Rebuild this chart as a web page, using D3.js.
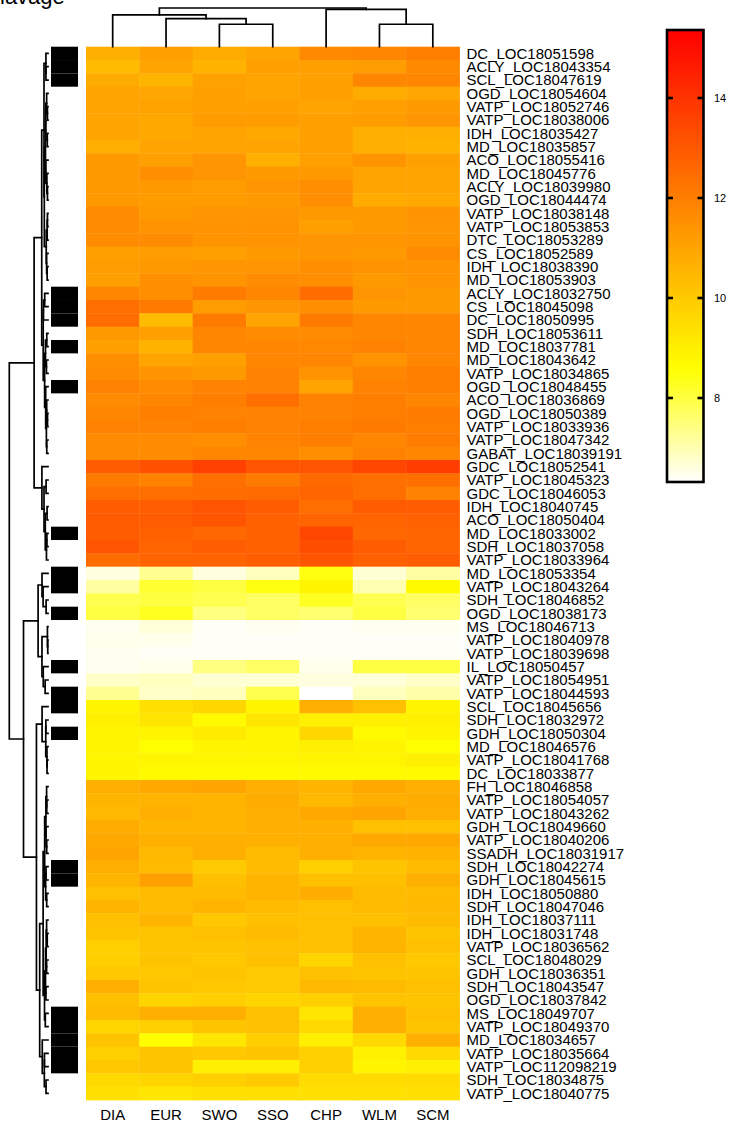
<!DOCTYPE html>
<html>
<head>
<meta charset="utf-8">
<script src="https://cdn.jsdelivr.net/npm/d3@7"></script>
<style>
  html, body { margin: 0; padding: 0; background: #fff; }
  svg { display: block; font-family: "Liberation Sans", Arial, Helvetica, sans-serif; }
</style>
</head>
<body>
<svg id="chart" width="730" height="1126"></svg>
<script>
// ---- data ---------------------------------------------------------------
const samples = ["DIA", "EUR", "SWO", "SSO", "CHP", "WLM", "SCM"];

const genes = [
  "DC_LOC18051598", "ACLY_LOC18043354", "SCL_LOC18047619", "OGD_LOC18054604",
  "VATP_LOC18052746", "VATP_LOC18038006", "IDH_LOC18035427", "MD_LOC18035857",
  "ACO_LOC18055416", "MD_LOC18045776", "ACLY_LOC18039980", "OGD_LOC18044474",
  "VATP_LOC18038148", "VATP_LOC18053853", "DTC_LOC18053289", "CS_LOC18052589",
  "IDH_LOC18038390", "MD_LOC18053903", "ACLY_LOC18032750", "CS_LOC18045098",
  "DC_LOC18050995", "SDH_LOC18053611", "MD_LOC18037781", "MD_LOC18043642",
  "VATP_LOC18034865", "OGD_LOC18048455", "ACO_LOC18036869", "OGD_LOC18050389",
  "VATP_LOC18033936", "VATP_LOC18047342", "GABAT_LOC18039191", "GDC_LOC18052541",
  "VATP_LOC18045323", "GDC_LOC18046053", "IDH_LOC18040745", "ACO_LOC18050404",
  "MD_LOC18033002", "SDH_LOC18037058", "VATP_LOC18033964", "MD_LOC18053354",
  "VATP_LOC18043264", "SDH_LOC18046852", "OGD_LOC18038173", "MS_LOC18046713",
  "VATP_LOC18040978", "VATP_LOC18039698", "IL_LOC18050457", "VATP_LOC18054951",
  "VATP_LOC18044593", "SCL_LOC18045656", "SDH_LOC18032972", "GDH_LOC18050304",
  "MD_LOC18046576", "VATP_LOC18041768", "DC_LOC18033877", "FH_LOC18046858",
  "VATP_LOC18054057", "VATP_LOC18043262", "GDH_LOC18049660", "VATP_LOC18040206",
  "SSADH_LOC18031917", "SDH_LOC18042274", "GDH_LOC18045615", "IDH_LOC18050880",
  "SDH_LOC18047046", "IDH_LOC18037111", "IDH_LOC18031748", "VATP_LOC18036562",
  "SCL_LOC18048029", "GDH_LOC18036351", "SDH_LOC18043547", "OGD_LOC18037842",
  "MS_LOC18049707", "VATP_LOC18049370", "MD_LOC18034657", "VATP_LOC18035664",
  "VATP_LOC112098219", "SDH_LOC18034875", "VATP_LOC18040775"
];

// log2 expression, one row per gene, columns in sample order
const expr = [
  [10.7, 11.1, 10.8, 11.0, 11.7, 11.8, 12.0],
  [10.4, 11.0, 10.6, 11.1, 11.1, 11.2, 11.7],
  [10.8, 10.55, 11.05, 11.0, 11.1, 11.8, 11.8],
  [11.0, 10.95, 11.1, 11.0, 11.1, 10.8, 10.95],
  [11.0, 11.05, 11.1, 11.1, 11.0, 11.1, 11.3],
  [11.0, 10.9, 11.2, 11.2, 11.1, 11.2, 11.4],
  [11.0, 10.9, 11.0, 10.9, 11.1, 10.7, 10.7],
  [10.7, 11.0, 11.0, 11.0, 11.1, 10.7, 10.6],
  [11.3, 11.1, 11.4, 10.7, 11.1, 11.45, 11.1],
  [11.3, 11.55, 11.4, 11.3, 11.3, 11.0, 11.0],
  [11.3, 11.3, 11.2, 11.4, 11.55, 11.0, 11.0],
  [11.3, 11.2, 11.2, 11.3, 11.55, 10.8, 10.9],
  [11.65, 11.3, 11.4, 11.4, 11.3, 11.3, 11.45],
  [11.65, 11.45, 11.45, 11.45, 11.1, 11.3, 11.4],
  [11.65, 11.65, 11.45, 11.45, 11.4, 11.4, 11.45],
  [11.1, 11.2, 11.1, 11.3, 11.4, 11.3, 11.65],
  [11.2, 11.3, 11.4, 11.4, 11.55, 11.45, 11.45],
  [11.1, 11.55, 11.45, 11.65, 11.55, 11.3, 11.45],
  [11.8, 11.55, 12.05, 11.8, 12.5, 11.4, 11.3],
  [12.4, 12.1, 11.2, 11.4, 11.55, 11.3, 11.3],
  [12.5, 10.4, 12.1, 11.0, 12.1, 11.8, 11.8],
  [11.3, 11.1, 11.8, 11.65, 11.65, 11.8, 11.8],
  [11.1, 10.6, 11.8, 11.8, 11.75, 11.9, 11.8],
  [11.55, 11.0, 11.1, 11.8, 11.8, 11.45, 11.8],
  [11.65, 11.45, 11.3, 11.9, 11.45, 11.8, 12.0],
  [11.9, 11.65, 11.9, 11.9, 11.0, 11.9, 12.0],
  [11.65, 11.8, 12.0, 12.4, 11.9, 12.0, 11.8],
  [11.8, 12.0, 11.9, 11.9, 11.9, 12.0, 12.05],
  [11.9, 11.9, 12.0, 11.9, 12.0, 12.1, 12.0],
  [11.65, 11.65, 11.55, 11.9, 12.0, 11.8, 12.05],
  [11.65, 11.65, 11.8, 11.8, 11.55, 11.9, 11.8],
  [12.95, 13.2, 13.65, 13.1, 13.1, 13.5, 13.75],
  [12.1, 11.9, 12.4, 12.1, 12.55, 12.4, 12.4],
  [12.4, 12.4, 12.5, 12.55, 12.7, 12.4, 11.9],
  [12.95, 12.9, 13.1, 12.95, 12.4, 12.95, 12.95],
  [12.95, 12.95, 13.1, 12.8, 12.7, 12.7, 12.8],
  [12.95, 12.8, 12.6, 12.8, 13.5, 12.6, 12.7],
  [13.1, 12.7, 12.9, 12.8, 13.3, 12.95, 12.7],
  [12.5, 12.7, 12.7, 12.9, 13.1, 12.8, 12.95],
  [6.6, 7.3, 6.6, 6.9, 8.45, 6.7, 7.15],
  [7.15, 8.15, 8.0, 8.45, 8.85, 7.0, 8.7],
  [7.87, 8.0, 7.87, 7.7, 8.3, 7.87, 7.7],
  [8.0, 8.3, 7.45, 7.7, 7.6, 8.0, 7.6],
  [6.45, 6.66, 6.38, 6.45, 6.38, 6.45, 6.45],
  [6.5, 6.5, 6.38, 6.38, 6.38, 6.38, 6.38],
  [6.45, 6.4, 6.4, 6.4, 6.4, 6.4, 6.4],
  [6.45, 6.5, 7.45, 7.7, 6.5, 8.0, 8.0],
  [6.82, 6.9, 6.7, 6.7, 6.6, 6.66, 6.82],
  [7.3, 6.82, 6.9, 7.87, 6.32, 6.9, 7.1],
  [8.85, 9.4, 9.65, 8.85, 10.7, 10.25, 8.85],
  [9.0, 9.25, 8.7, 9.25, 9.0, 9.0, 9.0],
  [8.85, 8.85, 9.1, 8.85, 9.65, 8.7, 8.85],
  [8.85, 8.6, 8.85, 8.85, 9.0, 8.85, 8.6],
  [8.85, 8.85, 8.85, 8.85, 8.85, 8.85, 9.0],
  [8.85, 8.7, 8.7, 8.7, 8.7, 8.7, 8.7],
  [10.7, 10.9, 11.0, 10.7, 10.55, 10.9, 10.7],
  [10.55, 10.55, 10.55, 10.8, 10.45, 10.7, 10.8],
  [10.45, 10.7, 10.55, 10.7, 10.9, 11.0, 10.7],
  [10.8, 10.55, 10.55, 10.7, 10.7, 10.25, 10.25],
  [10.9, 10.7, 10.7, 10.7, 10.7, 10.9, 10.9],
  [11.0, 10.45, 10.7, 10.4, 10.7, 10.55, 10.6],
  [10.7, 10.4, 10.0, 10.4, 9.85, 10.15, 10.4],
  [10.55, 11.1, 10.25, 10.55, 10.25, 10.25, 10.7],
  [10.25, 10.4, 10.4, 10.55, 10.75, 10.4, 10.4],
  [10.55, 10.4, 10.55, 10.4, 10.25, 10.4, 10.45],
  [10.25, 10.55, 10.05, 10.25, 10.25, 10.25, 10.4],
  [10.15, 10.15, 10.25, 10.4, 10.25, 10.55, 10.15],
  [9.85, 10.15, 10.15, 10.25, 10.25, 10.55, 10.25],
  [9.85, 10.15, 10.05, 10.25, 9.7, 10.25, 10.05],
  [10.05, 10.05, 10.15, 10.0, 10.25, 10.15, 10.15],
  [10.7, 10.15, 10.05, 10.0, 10.45, 10.4, 10.25],
  [10.25, 9.7, 9.85, 9.7, 9.85, 10.15, 10.15],
  [10.4, 10.7, 10.7, 10.25, 9.25, 10.7, 10.25],
  [9.7, 9.85, 10.15, 10.25, 9.6, 10.7, 10.15],
  [10.15, 8.6, 9.25, 9.85, 9.0, 9.6, 10.7],
  [9.85, 10.15, 10.05, 10.15, 9.85, 8.95, 9.6],
  [10.05, 10.15, 9.0, 9.0, 9.85, 8.85, 9.0],
  [9.6, 9.7, 9.85, 10.0, 9.55, 9.55, 9.55],
  [9.4, 9.25, 9.4, 9.4, 9.4, 9.4, 9.4]
];

// row side annotation (1 = flagged gene, drawn black)
const sideGroup = [
  1,1,1,0,0,0,0,0,0,0, 0,0,0,0,0,0,0,0,1,1,
  1,0,1,0,0,1,0,0,0,0, 0,0,0,0,0,0,1,0,0,1,
  1,0,1,0,0,0,1,0,1,1, 0,1,0,0,0,0,0,0,0,0,
  0,1,1,0,0,0,0,0,0,0, 0,0,1,1,1,1,1,0,0
];

// column dendrogram: [left, right, height]; strings are samples,
// numbers refer to an earlier merge
const colMerge = [
  ["SWO", "SSO", 2.9],
  ["WLM", "SCM", 2.9],
  ["EUR", 0, 3.62],
  ["DIA", 2, 4.1],
  ["CHP", 1, 4.83],
  [3, 4, 5.0]
];

const keyRange = [6.32, 15.36];
const keyTicks = [8, 10, 12, 14];
const titleText = "lavage";

// ---- layout -------------------------------------------------------------
const svg = d3.select("#chart");
const W = 730, H = 1126;
svg.append("rect").attr("width", W).attr("height", H).attr("fill", "#fff");

const hm = { left: 86, right: 459.5, top: 46.7, bottom: 1100 };

const x = d3.scaleBand().domain(samples).range([hm.left, hm.right]);
const y = d3.scaleBand().domain(genes).range([hm.top, hm.bottom]);

// reversed heat palette: white -> yellow -> orange -> red
function heat(t) {
  t = Math.max(0, Math.min(1, t));
  if (t >= 0.25) {
    const h = 60 * (1 - t) / 0.75;
    return d3.hsl(h, 1, 0.5).formatHex();
  }
  const s = t / 0.25;
  return d3.rgb(255, 255, Math.round(255 * (1 - s))).formatHex();
}
const color = d3.scaleSequential(heat).domain(keyRange);

// ---- heatmap cells ------------------------------------------------------
const cells = [];
genes.forEach((g, i) => samples.forEach((s, j) => cells.push({ g, s, v: expr[i][j] })));

svg.append("g")
  .selectAll("rect")
  .data(cells)
  .join("rect")
  .attr("x", d => x(d.s))
  .attr("y", d => y(d.g))
  .attr("width", x.bandwidth() + 0.4)
  .attr("height", y.bandwidth() + 0.4)
  .attr("fill", d => color(d.v));

// ---- row side colours ---------------------------------------------------
svg.append("g")
  .selectAll("rect")
  .data(genes.map((g, i) => ({ g, k: sideGroup[i] })).filter(d => d.k === 1))
  .join("rect")
  .attr("x", 51)
  .attr("y", d => y(d.g))
  .attr("width", 27)
  .attr("height", y.bandwidth())
  .attr("fill", "#000");

// ---- row labels ---------------------------------------------------------
svg.append("g")
  .selectAll("text")
  .data(genes)
  .join("text")
  .attr("x", hm.right + 7)
  .attr("y", d => y(d) + y.bandwidth() / 2 + 5.3)
  .attr("font-size", 15)
  .attr("fill", "#000")
  .text(d => d);

// ---- column labels ------------------------------------------------------
svg.append("g")
  .selectAll("text")
  .data(samples)
  .join("text")
  .attr("x", d => x(d) + x.bandwidth() / 2)
  .attr("y", 1120)
  .attr("text-anchor", "middle")
  .attr("font-size", 15)
  .attr("fill", "#000")
  .text(d => d);

// ---- row dendrogram: complete linkage, Euclidean, order-preserving ------
function euclid(a, b) {
  let s = 0;
  for (let k = 0; k < a.length; k++) { const d = a[k] - b[k]; s += d * d; }
  return Math.sqrt(s);
}
const D = expr.map(a => expr.map(b => euclid(a, b)));
let clusters = genes.map((g, i) => ({ leaf: i, h: 0, members: [i] }));
while (clusters.length > 1) {
  let best = Infinity, bi = 0;
  for (let j = 0; j < clusters.length - 1; j++) {
    let m = 0;
    for (const p of clusters[j].members)
      for (const q of clusters[j + 1].members) m = Math.max(m, D[p][q]);
    if (m < best) { best = m; bi = j; }
  }
  const a = clusters[bi], b = clusters[bi + 1];
  clusters.splice(bi, 2, {
    h: Math.max(best, a.h, b.h),
    children: [a, b],
    members: a.members.concat(b.members)
  });
}
const rowRoot = d3.hierarchy(clusters[0]);
const rowH = d3.scaleLinear().domain([0, rowRoot.data.h]).range([48, 9.3]);

rowRoot.eachAfter(n => {
  n.pos = n.children ? d3.mean(n.children, c => c.pos)
                     : y(genes[n.data.leaf]) + y.bandwidth() / 2;
});

const dendroStyle = sel => sel.attr("fill", "none").attr("stroke", "#000")
  .attr("stroke-width", 1.7).attr("stroke-linejoin", "miter").attr("stroke-linecap", "square");

svg.append("g").call(dendroStyle)
  .selectAll("path")
  .data(rowRoot.descendants().filter(n => n.children))
  .join("path")
  .attr("d", n => {
    const [a, b] = n.children, xp = rowH(n.data.h);
    return `M${rowH(a.data.h)},${a.pos}H${xp}V${b.pos}H${rowH(b.data.h)}`;
  });

// ---- column dendrogram --------------------------------------------------
const colNodes = [];
const toNode = r => typeof r === "number" ? colNodes[r] : { name: r, h: 0 };
colMerge.forEach(([l, r, h]) => colNodes.push({ h, children: [toNode(l), toNode(r)] }));
const colRoot = d3.hierarchy(colNodes[colNodes.length - 1]);
const colH = d3.scaleLinear().domain([0, colRoot.data.h]).range([hm.top, 8]);

colRoot.eachAfter(n => {
  n.pos = n.children ? d3.mean(n.children, c => c.pos)
                     : x(n.data.name) + x.bandwidth() / 2;
});

svg.append("g").call(dendroStyle)
  .selectAll("path")
  .data(colRoot.descendants().filter(n => n.children))
  .join("path")
  .attr("d", n => {
    const [a, b] = n.children, yp = colH(n.data.h);
    return `M${a.pos},${colH(a.data.h)}V${yp}H${b.pos}V${colH(b.data.h)}`;
  });

// ---- colour key ---------------------------------------------------------
const key = { left: 667, right: 703.5, top: 30, bottom: 482 };
const keyY = d3.scaleLinear().domain(keyRange).range([key.bottom, key.top]);

const grad = svg.append("defs").append("linearGradient")
  .attr("id", "keyGrad").attr("x1", 0).attr("y1", 1).attr("x2", 0).attr("y2", 0);
d3.range(0, 1.0001, 0.02).forEach(t => {
  grad.append("stop").attr("offset", t).attr("stop-color", heat(t));
});

svg.append("rect")
  .attr("x", key.left).attr("y", key.top)
  .attr("width", key.right - key.left).attr("height", key.bottom - key.top)
  .attr("fill", "url(#keyGrad)")
  .attr("stroke", "#000").attr("stroke-width", 2.6);

const kt = svg.append("g");
kt.selectAll("line.l").data(keyTicks).join("line").attr("class", "l")
  .attr("x1", key.left).attr("x2", key.left + 6)
  .attr("y1", d => keyY(d)).attr("y2", d => keyY(d))
  .attr("stroke", "#000").attr("stroke-width", 2.6);
kt.selectAll("line.r").data(keyTicks).join("line").attr("class", "r")
  .attr("x1", key.right - 6).attr("x2", key.right)
  .attr("y1", d => keyY(d)).attr("y2", d => keyY(d))
  .attr("stroke", "#000").attr("stroke-width", 2.6);
kt.selectAll("text").data(keyTicks).join("text")
  .attr("x", 714).attr("y", d => keyY(d) + 4)
  .attr("font-size", 11).attr("fill", "#000")
  .text(d => d);

// ---- title (runs off the top edge) -------------------------------------
svg.append("text")
  .attr("x", 0).attr("y", 4)
  .attr("font-size", 22).attr("fill", "#000")
  .text(titleText);
</script>
</body>
</html>
